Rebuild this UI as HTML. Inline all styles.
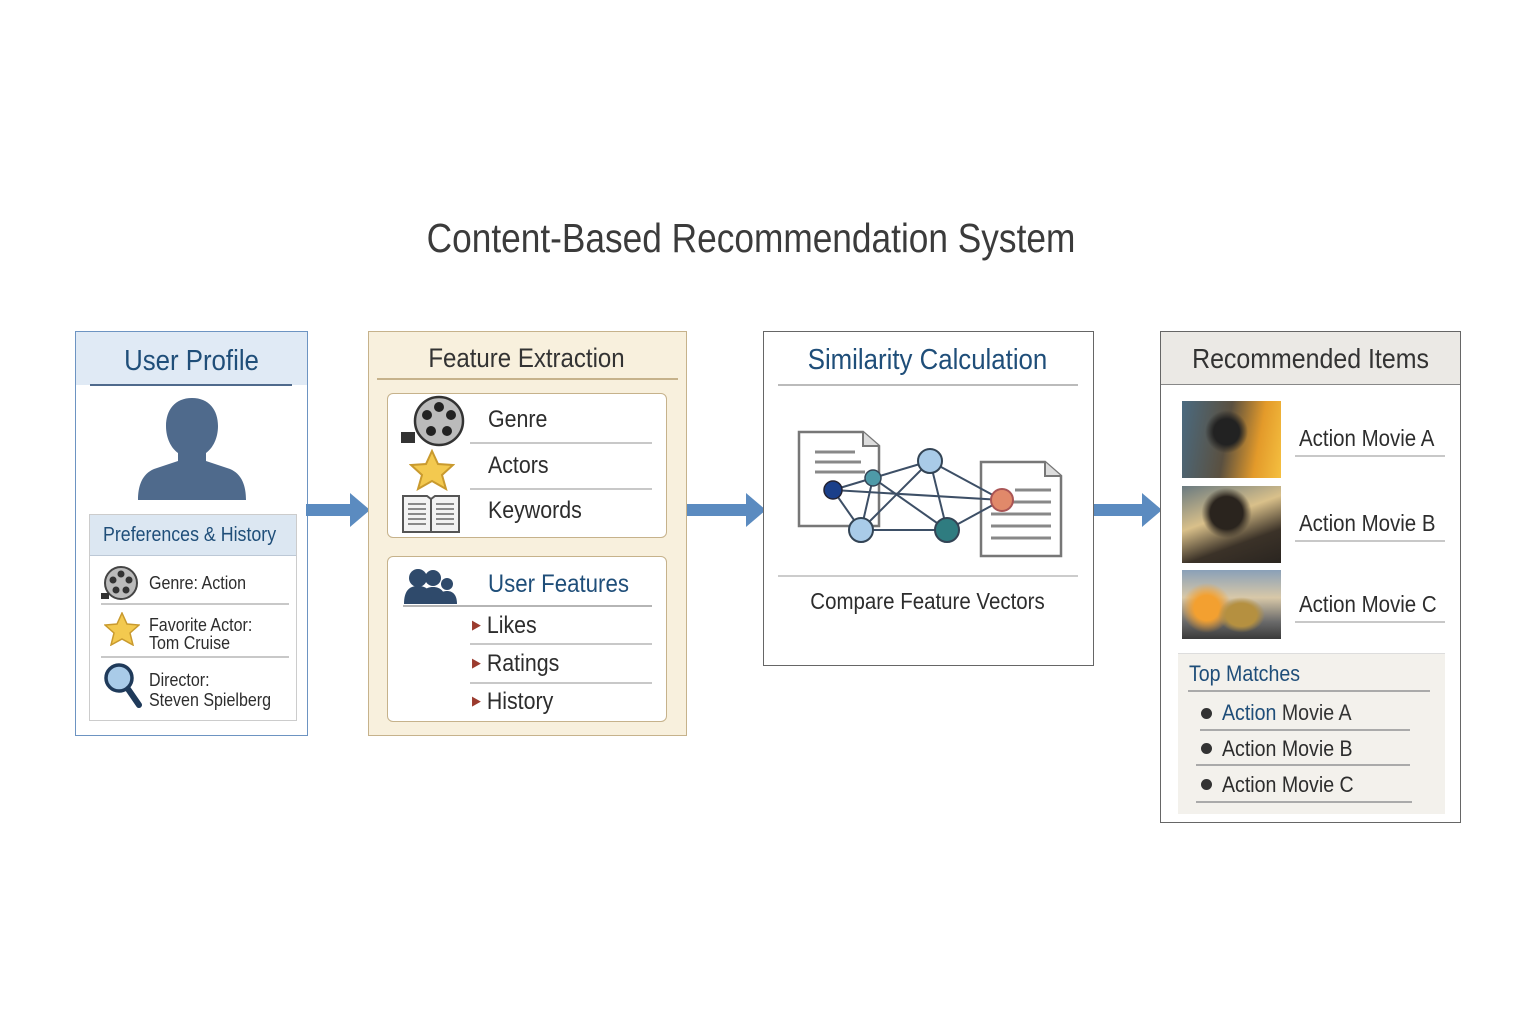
<!DOCTYPE html>
<html><head><meta charset="utf-8"><style>
body{margin:0;width:1536px;height:1024px;background:#fff;position:relative;overflow:hidden;font-family:"Liberation Sans",sans-serif;color:#2d2d2d}
.a{position:absolute}
.t{position:absolute;white-space:nowrap;line-height:1;transform:scaleX(.89);transform-origin:0 50%}
.c{transform-origin:50% 50%}
.ln{position:absolute;height:2px;background:#c8c8c8}
</style></head><body>
<div class="t c" style="left:0;width:1502px;text-align:center;top:218px;font-size:41px;color:#3b3b3b;transform:scaleX(.86)">Content-Based Recommendation System</div>

<!-- Box 1 -->
<div class="a" style="left:75px;top:331px;width:231px;height:403px;border:1.5px solid #6d94c2;background:#fff"></div>
<div class="a" style="left:76px;top:332px;width:231px;height:53px;background:#e0eaf5"></div>
<div class="t c" style="left:76px;width:231px;text-align:center;top:347px;font-size:29px;color:#1f4e79">User Profile</div>
<div class="a" style="left:90px;top:384px;width:202px;height:2px;background:#4f6a8c"></div>
<svg class="a" style="left:136px;top:396px" width="112" height="106"><path d="M56 2c-17 0-26 12-26 28 0 12 5 22 12 27v8l-24 8C6 78 2 90 2 104h108c0-14-4-26-16-31l-24-8v-8c7-5 12-15 12-27 0-16-9-28-26-28z" fill="#4f6a8c"/></svg>
<div class="a" style="left:89px;top:514px;width:206px;height:205px;border:1.5px solid #ccc;background:#fff"></div>
<div class="a" style="left:90px;top:515px;width:206px;height:40px;background:#dce7f2;border-bottom:1.5px solid #bcc8d6"></div>
<div class="t" style="left:103px;top:525px;font-size:20px;color:#1f4e79">Preferences &amp; History</div>
<svg class="a" style="left:100px;top:565px" width="40" height="36"><circle cx="21" cy="18" r="16" fill="#bbb" stroke="#444" stroke-width="2"/><g fill="#333"><circle cx="21" cy="9" r="3.5"/><circle cx="13" cy="15" r="3.5"/><circle cx="29" cy="15" r="3.5"/><circle cx="16" cy="25" r="3.5"/><circle cx="26" cy="25" r="3.5"/></g><rect x="1" y="28" width="8" height="6" fill="#333"/></svg>
<div class="t" style="left:149px;top:574px;font-size:18px">Genre: Action</div>
<div class="ln" style="left:101px;top:603px;width:188px"></div>
<svg class="a" style="left:104px;top:612px" width="36" height="34"><polygon points="18,1 23,12 35,13 26,21 29,33 18,27 7,33 10,21 1,13 13,12" fill="#f3c94f" stroke="#c99a2e" stroke-width="1.5"/></svg>
<div class="t" style="left:149px;top:616px;font-size:18px;line-height:18px">Favorite Actor:<br>Tom Cruise</div>
<div class="ln" style="left:101px;top:656px;width:188px"></div>
<svg class="a" style="left:103px;top:662px" width="40" height="48"><circle cx="16" cy="16" r="13" fill="#a9cbe8" stroke="#1f3a5a" stroke-width="3.5"/><line x1="25" y1="27" x2="36" y2="43" stroke="#1f3a5a" stroke-width="6" stroke-linecap="round"/></svg>
<div class="t" style="left:149px;top:670px;font-size:18px;line-height:20px">Director:<br>Steven Spielberg</div>

<!-- Arrows -->
<svg class="a" style="left:306px;top:490px" width="66" height="40"><rect x="0" y="14" width="46" height="12" fill="#5b8bc0"/><polygon points="44,3 64,20 44,37" fill="#5b8bc0"/></svg>
<svg class="a" style="left:686px;top:490px" width="82" height="40"><rect x="0" y="14" width="62" height="12" fill="#5b8bc0"/><polygon points="60,3 80,20 60,37" fill="#5b8bc0"/></svg>
<svg class="a" style="left:1094px;top:490px" width="70" height="40"><rect x="0" y="14" width="50" height="12" fill="#5b8bc0"/><polygon points="48,3 68,20 48,37" fill="#5b8bc0"/></svg>

<!-- Box 2 -->
<div class="a" style="left:368px;top:331px;width:317px;height:403px;border:1.5px solid #c6b28b;background:#f8f0dd"></div>
<div class="t c" style="left:368px;width:317px;text-align:center;top:345px;font-size:27px;color:#333">Feature Extraction</div>
<div class="a" style="left:377px;top:378px;width:301px;height:2px;background:#c6b28b"></div>
<div class="a" style="left:387px;top:393px;width:278px;height:143px;border:1.5px solid #c6b28b;border-radius:6px;background:#fff"></div>
<svg class="a" style="left:399px;top:395px" width="70" height="52"><circle cx="40" cy="26" r="24" fill="#bbb" stroke="#333" stroke-width="2.5"/><g fill="#222"><circle cx="40" cy="12" r="5"/><circle cx="28" cy="20" r="5"/><circle cx="52" cy="20" r="5"/><circle cx="32" cy="36" r="5"/><circle cx="48" cy="36" r="5"/></g><rect x="2" y="37" width="14" height="11" fill="#333"/></svg>
<div class="t" style="left:488px;top:408px;font-size:24px">Genre</div>
<div class="ln" style="left:470px;top:442px;width:182px"></div>
<svg class="a" style="left:409px;top:449px" width="46" height="42"><polygon points="23,2 29,15 44,16 33,26 37,40 23,32 9,40 13,26 2,16 17,15" fill="#f3c94f" stroke="#c99a2e" stroke-width="2"/></svg>
<div class="t" style="left:488px;top:454px;font-size:24px">Actors</div>
<div class="ln" style="left:470px;top:488px;width:182px"></div>
<svg class="a" style="left:400px;top:492px" width="62" height="42"><path d="M3 4h24l4 3 4-3h24v36H3z" fill="#f2f2f2" stroke="#555" stroke-width="2"/><line x1="31" y1="7" x2="31" y2="40" stroke="#555" stroke-width="2"/><g stroke="#666" stroke-width="1.5"><line x1="8" y1="12" x2="26" y2="12"/><line x1="8" y1="17" x2="26" y2="17"/><line x1="8" y1="22" x2="26" y2="22"/><line x1="8" y1="27" x2="26" y2="27"/><line x1="8" y1="32" x2="26" y2="32"/><line x1="36" y1="12" x2="54" y2="12"/><line x1="36" y1="17" x2="54" y2="17"/><line x1="36" y1="22" x2="54" y2="22"/><line x1="36" y1="27" x2="54" y2="27"/><line x1="36" y1="32" x2="54" y2="32"/></g></svg>
<div class="t" style="left:488px;top:499px;font-size:24px">Keywords</div>
<div class="a" style="left:387px;top:556px;width:278px;height:164px;border:1.5px solid #c6b28b;border-radius:6px;background:#fff"></div>
<svg class="a" style="left:403px;top:566px" width="58" height="40"><g fill="#2f4a6b"><circle cx="44" cy="18" r="6"/><path d="M34 38c0-9 4-13 10-13s10 4 10 13z"/><circle cx="30" cy="12" r="8"/><path d="M17 38c0-12 5-17 13-17s13 5 13 17z"/><circle cx="15" cy="12" r="9"/><path d="M1 38c0-13 5-18 14-18s14 5 14 18z"/></g></svg>
<div class="t" style="left:488px;top:572px;font-size:25px;color:#1f4e79">User Features</div>
<div class="ln" style="left:403px;top:605px;width:249px;background:#b5b5b5"></div>
<div class="t" style="left:472px;top:614px;font-size:24px"><span style="color:#9b3b2e;font-size:13px;vertical-align:4px">▶</span> Likes</div>
<div class="ln" style="left:470px;top:643px;width:182px"></div>
<div class="t" style="left:472px;top:652px;font-size:24px"><span style="color:#9b3b2e;font-size:13px;vertical-align:4px">▶</span> Ratings</div>
<div class="ln" style="left:470px;top:682px;width:182px"></div>
<div class="t" style="left:472px;top:690px;font-size:24px"><span style="color:#9b3b2e;font-size:13px;vertical-align:4px">▶</span> History</div>

<!-- Box 3 -->
<div class="a" style="left:763px;top:331px;width:329px;height:333px;border:1.5px solid #666;background:#fff"></div>
<div class="t c" style="left:763px;width:329px;text-align:center;top:346px;font-size:29px;color:#1f4e79">Similarity Calculation</div>
<div class="ln" style="left:778px;top:384px;width:300px;background:#bbb"></div>
<svg class="a" style="left:795px;top:428px" width="275" height="135">
<path d="M4 4h64l16 14v80H4z" fill="#fff" stroke="#777" stroke-width="2.5"/><path d="M68 4v14h16" fill="#ddd" stroke="#777" stroke-width="2"/>
<g stroke="#888" stroke-width="3"><line x1="20" y1="24" x2="60" y2="24"/><line x1="20" y1="34" x2="66" y2="34"/><line x1="20" y1="44" x2="70" y2="44"/></g>
<path d="M186 34h64l16 14v80h-80z" fill="#fff" stroke="#777" stroke-width="2.5"/><path d="M250 34v14h16" fill="#ddd" stroke="#777" stroke-width="2"/>
<g stroke="#888" stroke-width="3"><line x1="220" y1="62" x2="256" y2="62"/><line x1="196" y1="74" x2="256" y2="74"/><line x1="196" y1="86" x2="256" y2="86"/><line x1="196" y1="98" x2="256" y2="98"/><line x1="196" y1="110" x2="256" y2="110"/></g>
<g stroke="#3d4f66" stroke-width="2"><line x1="38" y1="62" x2="78" y2="50"/><line x1="38" y1="62" x2="66" y2="102"/><line x1="78" y1="50" x2="66" y2="102"/><line x1="78" y1="50" x2="135" y2="33"/><line x1="78" y1="50" x2="152" y2="102"/><line x1="66" y1="102" x2="135" y2="33"/><line x1="66" y1="102" x2="152" y2="102"/><line x1="135" y1="33" x2="152" y2="102"/><line x1="135" y1="33" x2="207" y2="72"/><line x1="152" y1="102" x2="207" y2="72"/><line x1="38" y1="62" x2="207" y2="72"/></g>
<circle cx="38" cy="62" r="9" fill="#1a3f8a" stroke="#223" stroke-width="1.5"/>
<circle cx="78" cy="50" r="8" fill="#4e9aa8" stroke="#345" stroke-width="1.5"/>
<circle cx="66" cy="102" r="12" fill="#a9cbe8" stroke="#345" stroke-width="2"/>
<circle cx="135" cy="33" r="12" fill="#a9cbe8" stroke="#345" stroke-width="2"/>
<circle cx="152" cy="102" r="12" fill="#2f7c80" stroke="#345" stroke-width="2"/>
<circle cx="207" cy="72" r="11" fill="#e1896a" stroke="#a55" stroke-width="2"/>
</svg>
<div class="ln" style="left:778px;top:575px;width:300px;background:#ccc"></div>
<div class="t c" style="left:763px;width:329px;text-align:center;top:590px;font-size:23px">Compare Feature Vectors</div>

<!-- Box 4 -->
<div class="a" style="left:1160px;top:331px;width:299px;height:490px;border:1.5px solid #666;background:#fff"></div>
<div class="a" style="left:1161px;top:332px;width:299px;height:52px;background:#ebe9e5;border-bottom:1.5px solid #888"></div>
<div class="t c" style="left:1160px;width:301px;text-align:center;top:345px;font-size:28px;color:#333">Recommended Items</div>
<div class="a" style="left:1182px;top:401px;width:99px;height:77px;background:radial-gradient(circle at 45% 40%,#222 0 18%,transparent 30%),linear-gradient(100deg,#4a6a80 0%,#5a5040 45%,#e39a2a 75%,#f5c040 100%)"></div>
<div class="a" style="left:1182px;top:486px;width:99px;height:77px;background:radial-gradient(circle at 45% 35%,#2a241e 0 22%,transparent 34%),linear-gradient(160deg,#6a7a80 0%,#d9c08a 40%,#3b3228 70%,#2a2520 100%)"></div>
<div class="a" style="left:1182px;top:570px;width:99px;height:69px;background:radial-gradient(ellipse at 60% 65%,#b59040 0 18%,transparent 28%),radial-gradient(circle at 25% 55%,#f3a030 0 15%,transparent 30%),linear-gradient(180deg,#8aa0b8 0%,#d8c8a8 40%,#6a6a6a 75%,#3a3a3a 100%)"></div>
<div class="t" style="left:1299px;top:427px;font-size:23px">Action Movie A</div>
<div class="ln" style="left:1295px;top:455px;width:150px"></div>
<div class="t" style="left:1299px;top:512px;font-size:23px">Action Movie B</div>
<div class="ln" style="left:1295px;top:540px;width:150px"></div>
<div class="t" style="left:1299px;top:593px;font-size:23px">Action Movie C</div>
<div class="ln" style="left:1295px;top:621px;width:150px"></div>
<div class="a" style="left:1178px;top:653px;width:267px;height:160px;background:#f3f1ec;border-top:1.5px solid #ddd"></div>
<div class="t" style="left:1189px;top:663px;font-size:22px;color:#1f4e79">Top Matches</div>
<div class="ln" style="left:1188px;top:690px;width:242px;background:#aaa"></div>
<div class="a" style="left:1201px;top:708px;width:11px;height:11px;border-radius:50%;background:#333"></div>
<div class="t" style="left:1222px;top:702px;font-size:22px;color:#1f4e79">Action <span style="color:#333">Movie A</span></div>
<div class="ln" style="left:1200px;top:729px;width:210px;background:#aaa"></div>
<div class="a" style="left:1201px;top:743px;width:11px;height:11px;border-radius:50%;background:#333"></div>
<div class="t" style="left:1222px;top:738px;font-size:22px">Action Movie B</div>
<div class="ln" style="left:1196px;top:764px;width:214px;background:#aaa"></div>
<div class="a" style="left:1201px;top:779px;width:11px;height:11px;border-radius:50%;background:#333"></div>
<div class="t" style="left:1222px;top:774px;font-size:22px">Action Movie C</div>
<div class="ln" style="left:1196px;top:801px;width:216px;background:#aaa"></div>
</body></html>
